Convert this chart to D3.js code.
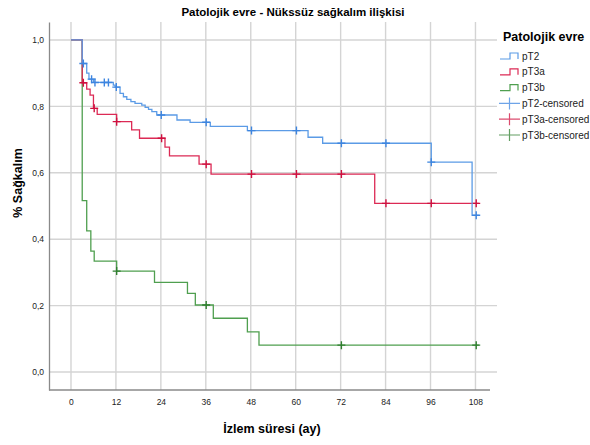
<!DOCTYPE html>
<html>
<head>
<meta charset="utf-8">
<script src="https://cdn.jsdelivr.net/npm/d3@7"></script>
<style>
  body { margin: 0; background: #fff; }
  svg text { font-family: "Liberation Sans", Arial, sans-serif; }
</style>
</head>
<body>
<div id="chart"></div>
<script>
// x ticks (months) and y ticks
const xTicks = [0, 12, 24, 36, 48, 60, 72, 84, 96, 108];
const yTicks = [0, 0.2, 0.4, 0.6, 0.8, 1.0];

// Kaplan-Meier steps: event times and survival after each
const pT2Times = [3.0, 4.2, 4.8, 6.0, 11.3, 11.8, 13.1, 14.0, 14.9, 16.0, 17.1, 18.9, 19.8, 20.7, 21.6, 22.9, 28.3, 31.8, 37.2, 47.1, 63.3, 67.2, 96.2, 107.1];
const pT2Surv  = [0.929, 0.900, 0.882, 0.872, 0.864, 0.858, 0.839, 0.829, 0.821, 0.814, 0.809, 0.804, 0.797, 0.791, 0.784, 0.774, 0.759, 0.752, 0.740, 0.727, 0.707, 0.689, 0.632, 0.472];
const pT2CensT = [3.3, 5.5, 6.4, 8.9, 10.0, 12.1, 24.1, 36.1, 48.2, 60.2, 72.2, 84.1, 96.2, 108.2];

const pT3aTimes = [3.0, 4.2, 5.1, 6.0, 7.0, 12.2, 16.2, 18.3, 25.1, 26.3, 34.2, 37.4, 81.1];
const pT3aSurv  = [0.871, 0.852, 0.834, 0.794, 0.776, 0.754, 0.729, 0.704, 0.677, 0.651, 0.626, 0.596, 0.508];
const pT3aCensT = [3.3, 6.2, 12.2, 24.2, 36.1, 48.2, 60.2, 72.2, 84.1, 96.2, 108.2];

const pT3bTimes = [3.0, 4.2, 5.3, 6.2, 12.2, 22.3, 31.1, 33.2, 38.0, 47.1, 50.2];
const pT3bSurv  = [0.516, 0.425, 0.364, 0.334, 0.304, 0.270, 0.237, 0.202, 0.162, 0.121, 0.081];
const pT3bCensT = [12.2, 36.1, 72.2, 108.2];

const endTime = 108.9;
const groupNames = ["pT2", "pT3a", "pT3b"];
const lineColors = ["#5b9be6", "#dc2a55", "#4f9f4f"];
const markColors = ["#3d85e0", "#d0103f", "#2f7f2f"];

const W = 590, H = 445;
const plot = { left: 49, right: 497, top: 22, bottom: 390 };

const svg = d3.select("#chart").append("svg")
  .attr("width", W).attr("height", H);

const x = d3.scaleLinear().domain([-5.87, 113.75]).range([plot.left, plot.right]);
const y = d3.scaleLinear().domain([-0.054, 1.054]).range([plot.bottom, plot.top]);

// grid
svg.append("g").selectAll("line").data(yTicks).join("line")
  .attr("x1", plot.left).attr("x2", plot.right)
  .attr("y1", d => y(d)).attr("y2", d => y(d))
  .attr("stroke", "#d4d4d4").attr("stroke-width", 1.4);
svg.append("g").selectAll("line").data(xTicks).join("line")
  .attr("x1", d => x(d)).attr("x2", d => x(d))
  .attr("y1", plot.top).attr("y2", plot.bottom)
  .attr("stroke", "#d4d4d4").attr("stroke-width", 1.4);

// axes
const fmt = d => d3.format(".1f")(d).replace(".", ",");
const yAxis = svg.append("g")
  .attr("transform", `translate(${plot.left},0)`)
  .call(d3.axisLeft(y).tickValues(yTicks).tickFormat(fmt).tickSize(0).tickPadding(5));
const xAxis = svg.append("g")
  .attr("transform", `translate(0,${plot.bottom})`)
  .call(d3.axisBottom(x).tickValues(xTicks).tickSize(0).tickPadding(9));
[xAxis, yAxis].forEach(a => {
  a.select(".domain").attr("stroke", "#8a8a8a").attr("stroke-width", 1.3);
  a.selectAll("text").attr("font-size", "8.5px").attr("fill", "#222")
    .attr("font-family", "Liberation Sans, Arial, sans-serif");
});
xAxis.select(".domain").attr("d", `M${plot.left},0H${plot.right - 7}`);

// curves
const groups = [
  { times: pT2Times, surv: pT2Surv, cens: pT2CensT },
  { times: pT3aTimes, surv: pT3aSurv, cens: pT3aCensT },
  { times: pT3bTimes, surv: pT3bSurv, cens: pT3bCensT }
];
const stepLine = d3.line().x(d => x(d[0])).y(d => y(d[1])).curve(d3.curveStepAfter);
const survAt = (g, t) => {
  let s = 1;
  g.times.forEach((tt, i) => { if (tt <= t) s = g.surv[i]; });
  return s;
};

// draw green first so others sit on top, as in the reference
[2, 1, 0].forEach(k => {
  const g = groups[k];
  const pts = [[0, 1]].concat(g.times.map((t, i) => [t, g.surv[i]]));
  pts.push([endTime, g.surv[g.surv.length - 1]]);
  svg.append("path").datum(pts)
    .attr("d", stepLine)
    .attr("fill", "none")
    .attr("stroke", lineColors[k])
    .attr("stroke-width", 1.3);
  const marks = svg.append("g");
  g.cens.forEach(t => {
    const cx = x(t), cy = y(survAt(g, t));
    marks.append("path")
      .attr("d", `M${cx - 4},${cy}H${cx + 4}M${cx},${cy - 4}V${cy + 4}`)
      .attr("stroke", markColors[k]).attr("stroke-width", 1.4).attr("fill", "none");
  });
});

// titles
svg.append("text").attr("x", 293).attr("y", 16).attr("text-anchor", "middle")
  .attr("font-size", "11.5px").attr("font-weight", "bold")
  .text("Patolojik evre - Nükssüz sağkalım ilişkisi");
svg.append("text").attr("x", 272).attr("y", 433).attr("text-anchor", "middle")
  .attr("font-size", "12.5px").attr("font-weight", "bold")
  .text("İzlem süresi (ay)");
svg.append("text").attr("transform", "translate(22,183) rotate(-90)")
  .attr("text-anchor", "middle")
  .attr("font-size", "12.5px").attr("font-weight", "bold")
  .text("% Sağkalım");

// legend
const legend = svg.append("g");
legend.append("text").attr("x", 503).attr("y", 41)
  .attr("font-size", "12.5px").attr("font-weight", "bold").text("Patolojik evre");
const legendLabels = groupNames.concat(groupNames.map(n => n + "-censored"));
legendLabels.forEach((lab, i) => {
  const ly = 56 + i * 15.8;
  const k = i % 3;
  if (i < 3) {
    legend.append("path")
      .attr("d", `M500,${ly + 3}H510V${ly - 3}H518V${ly + 3}`)
      .attr("fill", "none").attr("stroke", lineColors[k]).attr("stroke-width", 1.2);
  } else {
    legend.append("path")
      .attr("d", `M499,${ly}H520M509.5,${ly - 6}V${ly + 6}`)
      .attr("fill", "none").attr("stroke", markColors[k]).attr("stroke-width", 1.2)
      .attr("opacity", 0.75);
  }
  legend.append("text").attr("x", 522).attr("y", ly + 3.5)
    .attr("font-size", "10px").attr("fill", "#222").text(lab);
});
</script>
</body>
</html>
